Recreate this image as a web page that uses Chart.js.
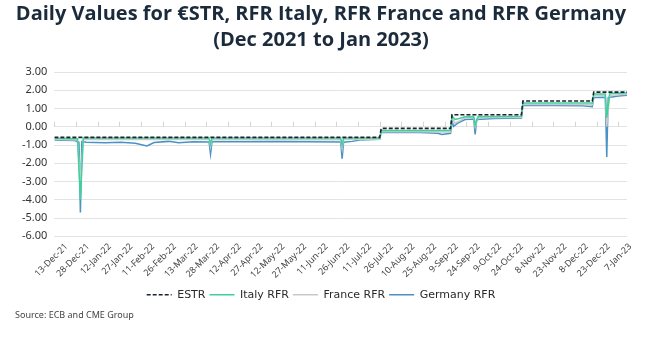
<!DOCTYPE html>
<html>
<head>
<meta charset="utf-8">
<script src="https://cdn.jsdelivr.net/npm/chart.js@4"></script>
<style>
  body { margin: 0; background: #fff; }
</style>
</head>
<body>
<canvas id="rfrChart" width="646" height="338"></canvas>
<script>
// Tick labels every 15 days, day 0 = 13-Dec-21 (data runs to day 396)
const tickLabels = ['13-Dec-21', '28-Dec-21', '12-Jan-22', '27-Jan-22', '11-Feb-22', '26-Feb-22',
    '13-Mar-22', '28-Mar-22', '12-Apr-22', '27-Apr-22', '12-May-22', '27-May-22', '11-Jun-22',
    '26-Jun-22', '11-Jul-22', '26-Jul-22', '10-Aug-22', '25-Aug-22', '9-Sep-22', '24-Sep-22',
    '9-Oct-22', '24-Oct-22', '8-Nov-22', '23-Nov-22', '8-Dec-22', '23-Dec-22', '7-Jan-23'];

// Series values as [day, rate]
const estr = [[0, -0.58], [225, -0.58], [226, -0.09], [274, -0.09], [275, 0.66], [323, 0.66],
    [324, 1.41], [372, 1.41], [373, 1.90], [396, 1.90]];

const italyRfr = [[0, -0.63], [16, -0.66], [18, -4.0], [20, -0.62], [60, -0.61], [107, -0.61],
    [108, -0.95], [109, -0.61], [198, -0.61], [199, -1.0], [200, -0.62], [225, -0.62],
    [226, -0.2], [274, -0.2], [275, 0.6], [277, 0.4], [280, 0.45], [284, 0.55], [290, 0.56],
    [291, 0.1], [293, 0.56], [323, 0.58], [324, 1.3], [372, 1.3], [373, 1.8], [381, 1.8],
    [382, 0.5], [384, 1.82], [396, 1.85]];

const franceRfr = [[0, -0.68], [16, -0.72], [18, -3.0], [20, -0.7], [107, -0.7], [108, -1.1],
    [109, -0.7], [198, -0.71], [199, -1.2], [200, -0.7], [225, -0.68], [226, -0.26], [274, -0.28],
    [275, 0.5], [277, 0.2], [281, 0.35], [284, 0.5], [290, 0.5], [291, 0.0], [293, 0.5],
    [323, 0.52], [324, 1.23], [372, 1.2], [373, 1.72], [381, 1.72], [382, 0.0], [384, 1.72],
    [396, 1.78]];

const germanyRfr = [[0, -0.72], [14, -0.75], [17, -0.85], [18, -4.7], [19, -0.8], [22, -0.85],
    [35, -0.88], [46, -0.85], [56, -0.9], [64, -1.05], [69, -0.86], [79, -0.8], [86, -0.88],
    [96, -0.82], [107, -0.84], [108, -1.5], [109, -0.82], [132, -0.82], [152, -0.8], [173, -0.82],
    [198, -0.83], [199, -1.75], [200, -0.85], [206, -0.8], [211, -0.72], [225, -0.68], [226, -0.3],
    [253, -0.32], [265, -0.35], [268, -0.42], [274, -0.36], [275, 0.35], [276, 0.02], [279, 0.2],
    [284, 0.4], [290, 0.42], [291, -0.42], [292, 0.4], [304, 0.45], [323, 0.48], [324, 1.17],
    [345, 1.17], [365, 1.15], [372, 1.1], [373, 1.6], [381, 1.62], [382, -1.65], [383, 1.6],
    [390, 1.68], [396, 1.72]];

// small tick marks sitting on the zero line
const zeroTicks = {
    id: 'zeroTicks',
    beforeDatasetsDraw(chart) {
        const ctx = chart.ctx;
        const x = chart.scales.x;
        const y0 = chart.scales.y.getPixelForValue(0);
        ctx.save();
        ctx.strokeStyle = '#d4d4d4';
        ctx.lineWidth = 1;
        x.ticks.forEach(t => {
            const px = Math.round(x.getPixelForValue(t.value)) + 0.5;
            ctx.beginPath();
            ctx.moveTo(px, y0);
            ctx.lineTo(px, y0 - 5);
            ctx.stroke();
        });
        ctx.restore();
    }
};

const ctx = document.getElementById('rfrChart').getContext('2d');
const rfrChart = new Chart(ctx, {
    type: 'line',
    data: {
        datasets: [{
            label: 'ESTR',
            data: estr,
            borderColor: '#1b2530',
            borderWidth: 1.6,
            borderDash: [4, 2],
            order: 0
        }, {
            label: 'Italy RFR',
            data: italyRfr,
            borderColor: '#3fd19b',
            borderWidth: 1.5,
            order: 1
        }, {
            label: 'France RFR',
            data: franceRfr,
            borderColor: '#c9c9c9',
            borderWidth: 1.5,
            order: 2
        }, {
            label: 'Germany RFR',
            data: germanyRfr,
            borderColor: '#4a92c6',
            borderWidth: 1.5,
            order: 3
        }]
    },
    options: {
        responsive: false,
        animation: false,
        elements: {
            point: { radius: 0 },
            line: { tension: 0 }
        },
        layout: {
            padding: { left: 15, right: 19, top: 1, bottom: 17 }
        },
        scales: {
            x: {
                type: 'linear',
                min: 0,
                max: 396,
                afterBuildTicks: axis => {
                    axis.ticks = tickLabels.map((_, i) => ({ value: i * 15 }));
                },
                grid: { display: false, drawTicks: false },
                border: { display: false },
                ticks: {
                    autoSkip: false,
                    maxRotation: 45,
                    minRotation: 45,
                    padding: 5,
                    labelOffset: 12,
                    color: '#444',
                    font: { family: 'Noto Sans', size: 9 },
                    callback: value => tickLabels[value / 15]
                }
            },
            y: {
                min: -6,
                max: 3,
                grid: { color: '#e3e3e3', drawTicks: false },
                border: { display: false },
                ticks: {
                    stepSize: 1,
                    padding: 7,
                    color: '#333',
                    font: { family: 'Noto Sans', size: 11 },
                    callback: value => value.toFixed(2)
                }
            }
        },
        plugins: {
            title: {
                display: true,
                text: ['Daily Values for €STR, RFR Italy, RFR France and RFR Germany', '(Dec 2021 to Jan 2023)'],
                color: '#1c2b3b',
                font: { family: 'Open Sans', size: 20, weight: 'bold', lineHeight: 1.3 },
                padding: { top: 0, bottom: 19 }
            },
            legend: {
                position: 'bottom',
                labels: {
                    usePointStyle: true,
                    pointStyle: 'line',
                    pointStyleWidth: 25,
                    padding: 4,
                    color: '#2a2a2a',
                    font: { family: 'DejaVu Sans', size: 11 },
                    // keep each dataset's dash and colour on its legend line
                    generateLabels: chart => Chart.defaults.plugins.legend.labels.generateLabels(chart)
                        .map((item, i) => Object.assign(item, {
                            strokeStyle: chart.data.datasets[i].borderColor,
                            lineDash: chart.data.datasets[i].borderDash || [],
                            lineWidth: 1.6
                        }))
                }
            },
            subtitle: {
                display: true,
                position: 'bottom',
                align: 'start',
                text: 'Source: ECB and CME Group',
                color: '#444',
                font: { family: 'Noto Sans', size: 9 },
                padding: { top: 0, bottom: 0 }
            },
            tooltip: { enabled: false }
        }
    },
    plugins: [zeroTicks]
});
</script>
</body>
</html>
